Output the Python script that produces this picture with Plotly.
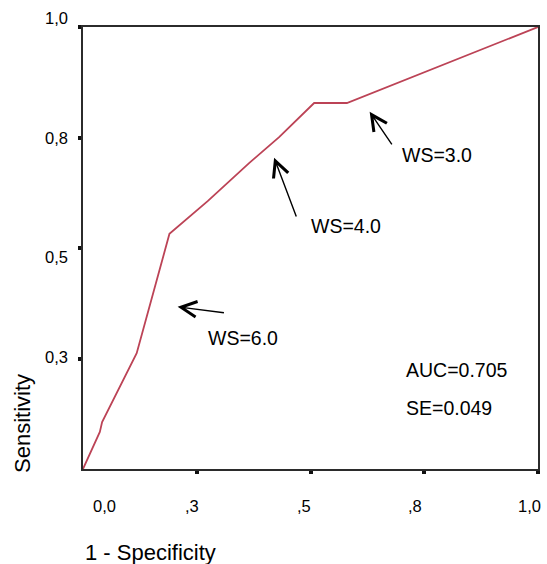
import plotly.graph_objects as go

# ROC curve points (1 - specificity, sensitivity)
fpr = [0.0, 0.037, 0.042, 0.103, 0.118, 0.190, 0.274, 0.365, 0.431, 0.508, 0.580, 1.0]
tpr = [0.0, 0.084, 0.106, 0.229, 0.262, 0.532, 0.606, 0.692, 0.751, 0.828, 0.828, 1.0]

# tick values and their labels
x_tick_vals = [0.25, 0.5, 0.75, 1.0]
y_tick_vals = [0.25, 0.5, 0.75, 1.0]
x_label_text = ["0,0", ",3", ",5", ",8", "1,0"]
x_label_pos = [0.047, 0.240, 0.486, 0.729, 0.982]
y_label_text = ["1,0", "0,8", "0,5", "0,3"]
y_label_pos = [1.020, 0.749, 0.480, 0.253]

# cut-point arrows: (label, head x, head y, tail x, tail y, text x, text y)
cut_labels = ["WS=6.0", "WS=4.0", "WS=3.0"]
head_x = [0.208, 0.420, 0.630]
head_y = [0.367, 0.704, 0.808]
tail_x = [0.313, 0.470, 0.681]
tail_y = [0.353, 0.568, 0.731]
text_x = [0.271, 0.497, 0.696]
text_y = [0.296, 0.550, 0.710]

stats_text = ["AUC=0.705", "SE=0.049"]
stats_y = [0.224, 0.138]
stats_x = 0.705

FONT = "Liberation Sans, Arial, sans-serif"

fig = go.Figure()
fig.add_trace(go.Scatter(
    x=fpr, y=tpr, mode="lines",
    line=dict(color="#bc4356", width=1.8),
    hoverinfo="skip", showlegend=False,
))

ann = []
for lab, hx, hy, tx, ty, lx, ly in zip(cut_labels, head_x, head_y, tail_x, tail_y, text_x, text_y):
    ann.append(dict(x=hx, y=hy, ax=tx, ay=ty, xref="x", yref="y", axref="x", ayref="y",
                    text="", showarrow=True, arrowhead=5, arrowsize=2.2, arrowwidth=1.4,
                    arrowcolor="black", standoff=0))
    ann.append(dict(x=lx, y=ly, xref="x", yref="y", text=lab, showarrow=False,
                    xanchor="left", yanchor="middle", font=dict(family=FONT, size=19.5, color="black")))
for t, yv in zip(stats_text, stats_y):
    ann.append(dict(x=stats_x, y=yv, xref="x", yref="y", text=t, showarrow=False,
                    xanchor="left", yanchor="middle", font=dict(family=FONT, size=19.5, color="black")))
for t, xv in zip(x_label_text, x_label_pos):
    ann.append(dict(x=xv, y=0, xref="x", yref="paper", yshift=-37, text=t, showarrow=False,
                    xanchor="center", yanchor="middle", font=dict(family=FONT, size=16.5, color="black")))
for t, yv in zip(y_label_text, y_label_pos):
    ann.append(dict(x=0, y=yv, xref="paper", yref="paper", xshift=-13, text=t, showarrow=False,
                    xanchor="right", yanchor="middle", font=dict(family=FONT, size=16.5, color="black")))
ann.append(dict(x=0, y=0, xref="paper", yref="paper", xshift=0, yshift=-83, text="1 - Specificity",
                showarrow=False, xanchor="left", yanchor="middle",
                font=dict(family=FONT, size=22, color="black")))
ann.append(dict(x=0, y=0.102, xref="paper", yref="paper", xshift=-60, text="Sensitivity", textangle=-90,
                showarrow=False, xanchor="center", yanchor="middle",
                font=dict(family=FONT, size=22, color="black")))

fig.update_layout(
    width=547, height=564,
    margin=dict(l=83, r=7, t=27, b=95),
    paper_bgcolor="white", plot_bgcolor="white",
    annotations=ann,
    xaxis=dict(range=[0, 1], tickvals=x_tick_vals, showticklabels=False, ticks="outside",
               ticklen=3, tickwidth=4, tickcolor="#111", showgrid=False, zeroline=False,
               showline=True, mirror=True, linecolor="#2b2b2b", linewidth=2),
    yaxis=dict(range=[0, 1], tickvals=y_tick_vals, showticklabels=False, ticks="outside",
               ticklen=3, tickwidth=4, tickcolor="#111", showgrid=False, zeroline=False,
               showline=True, mirror=True, linecolor="#2b2b2b", linewidth=2),
)

fig.write_html("out.html", config={"displayModeBar": False},
               post_script="document.body.style.margin='0';document.body.style.overflow='hidden';")
